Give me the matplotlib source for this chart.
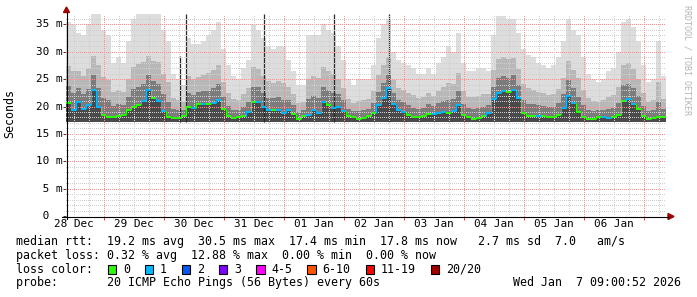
import numpy as np
import matplotlib
matplotlib.use("Agg")
import matplotlib.pyplot as plt
import matplotlib.transforms as mtransforms
from matplotlib.patches import Rectangle, Polygon
from matplotlib.lines import Line2D

W, H = 697, 297

# 2-hour buckets from 28 Dec 09:00 to 07 Jan 09:00, values in ms
rtt_median = [
    20.7, 19.3, 20.8, 19.6, 20.3, 23.0, 20.0, 18.4, 18.1, 18.1, 18.3, 18.4,
    19.3, 20.0, 20.3, 21.0, 23.0, 21.5, 21.0, 19.2, 18.1, 17.9, 17.9, 18.2,
    20.0, 19.8, 20.4, 20.5, 20.4, 20.6, 21.2, 19.5, 18.2, 17.9, 18.0, 18.2,
    19.0, 20.8, 20.9, 20.0, 19.3, 19.3, 19.4, 18.8, 19.4, 18.6, 17.8, 18.2,
    18.5, 19.3, 18.8, 20.8, 20.2, 19.7, 20.0, 19.2, 18.2, 18.0, 17.7, 17.9,
    18.2, 18.9, 20.3, 21.6, 23.3, 20.5, 19.3, 19.0, 18.4, 18.0, 18.0, 18.3,
    18.7, 18.6, 18.8, 19.0, 18.8, 19.2, 20.2, 18.5, 18.0, 17.8, 17.9, 18.2,
    18.8, 21.3, 22.4, 22.8, 22.6, 23.1, 21.5, 18.8, 18.3, 18.3, 18.2, 18.2,
    18.1, 18.0, 18.5, 19.8, 22.0, 20.7, 19.0, 18.0, 17.8, 17.8, 18.0, 18.0,
    17.9, 18.0, 18.4, 21.0, 21.3, 20.5, 19.5, 18.2, 17.8, 17.9, 18.1, 18.1,
]
smoke_top = [
    35.5, 35.0, 33.5, 33.0, 35.0, 36.9, 36.9, 34.0, 33.0, 28.0, 29.0, 28.0,
    32.0, 36.0, 36.9, 36.9, 36.9, 36.9, 36.9, 34.0, 32.0, 26.0, 25.0, 24.0,
    32.5, 31.5, 31.5, 32.0, 33.0, 34.0, 35.5, 30.5, 27.5, 25.5, 25.0, 27.0,
    28.5, 35.0, 34.0, 32.5, 31.0, 30.5, 31.0, 31.0, 28.5, 26.5, 24.0, 24.0,
    33.0, 33.0, 33.0, 35.0, 34.0, 33.5, 31.0, 28.5, 25.0, 24.0, 25.0, 25.0,
    25.0, 27.5, 32.5, 35.0, 36.0, 30.0, 28.5, 28.0, 27.5, 27.0, 26.0, 26.0,
    27.0, 26.0, 28.0, 29.0, 31.0, 30.0, 33.5, 28.0, 26.5, 26.5, 27.0, 27.0,
    26.5, 33.0, 36.5, 36.5, 36.0, 36.0, 33.5, 30.5, 29.5, 29.0, 28.0, 27.5,
    27.0, 27.5, 29.0, 32.0, 36.0, 34.0, 33.0, 29.0, 26.0, 25.0, 24.5, 25.0,
    26.5, 27.0, 30.0, 35.5, 36.0, 34.5, 32.0, 27.5, 24.5, 25.0, 32.0, 25.5,
]
smoke_mid = [
    27.4, 26.4, 26.5, 25.6, 26.9, 29.3, 27.6, 25.4, 24.8, 22.6, 23.1, 22.7,
    25.0, 27.2, 27.8, 28.2, 29.3, 28.4, 28.2, 25.9, 24.4, 21.5, 21.1, 20.8,
    25.6, 25.1, 25.4, 25.7, 26.1, 26.6, 27.6, 24.5, 22.4, 21.3, 21.2, 22.2,
    23.3, 27.2, 26.8, 25.6, 24.6, 24.3, 24.6, 24.3, 23.5, 22.2, 20.6, 20.8,
    25.0, 25.5, 25.2, 27.2, 26.4, 25.9, 25.0, 23.4, 21.3, 20.7, 21.0, 21.1,
    21.3, 22.8, 25.8, 27.6, 29.0, 24.8, 23.4, 23.1, 22.5, 22.1, 21.6, 21.8,
    22.4, 21.9, 22.9, 23.5, 24.3, 24.1, 26.2, 22.8, 21.8, 21.7, 22.0, 22.2,
    22.3, 26.6, 28.7, 29.0, 28.6, 28.9, 26.9, 24.1, 23.3, 23.1, 22.6, 22.4,
    22.1, 22.3, 23.2, 25.3, 28.3, 26.7, 25.3, 23.0, 21.5, 21.0, 20.9, 21.2,
    21.8, 22.1, 23.6, 27.5, 27.9, 26.8, 25.1, 22.4, 20.8, 21.1, 24.4, 21.4,
]
smoke_core = [
    23.7, 22.4, 23.3, 22.3, 23.2, 25.8, 23.4, 21.5, 21.1, 20.1, 20.4, 20.3,
    21.8, 23.2, 23.6, 24.2, 25.8, 24.6, 24.2, 22.2, 20.9, 19.5, 19.3, 19.4,
    22.5, 22.1, 22.6, 22.8, 22.9, 23.3, 24.1, 21.7, 20.1, 19.4, 19.4, 20.0,
    20.9, 23.6, 23.5, 22.5, 21.6, 21.5, 21.7, 21.2, 21.2, 20.2, 19.0, 19.4,
    21.4, 22.0, 21.6, 23.6, 23.0, 22.5, 22.2, 21.1, 19.6, 19.2, 19.2, 19.3,
    19.6, 20.6, 22.7, 24.3, 25.8, 22.4, 21.1, 20.8, 20.2, 19.8, 19.6, 19.8,
    20.4, 20.1, 20.6, 21.0, 21.2, 21.4, 22.9, 20.4, 19.7, 19.5, 19.7, 20.0,
    20.3, 23.6, 25.2, 25.5, 25.3, 25.7, 23.9, 21.1, 20.5, 20.4, 20.2, 20.1,
    19.9, 19.9, 20.6, 22.2, 24.8, 23.4, 21.8, 20.2, 19.4, 19.2, 19.3, 19.4,
    19.6, 19.8, 20.7, 23.9, 24.2, 23.3, 22.0, 20.1, 19.1, 19.3, 20.9, 19.6,
]
loss_count = [
    0, 1, 1, 1, 1, 1, 1, 0, 0, 0, 0, 0,
    0, 0, 0, 1, 1, 0, 1, 1, 0, 0, 0, 0,
    0, 1, 0, 1, 0, 1, 1, 0, 0, 0, 0, 0,
    1, 0, 1, 1, 1, 0, 1, 1, 1, 0, 0, 0,
    1, 1, 1, 1, 0, 1, 1, 1, 0, 0, 0, 0,
    0, 0, 1, 1, 1, 1, 1, 1, 0, 0, 0, 0,
    0, 1, 1, 1, 0, 1, 1, 0, 0, 0, 0, 0,
    1, 1, 1, 1, 0, 1, 1, 0, 0, 0, 1, 0,
    0, 0, 0, 1, 1, 1, 0, 0, 0, 0, 0, 1,
    1, 0, 0, 0, 1, 1, 0, 0, 0, 0, 0, 0,
]
# lower edge of the smoke, one value per day
smoke_floor_daily = [17.2, 17.2, 17.1, 17.2, 17.1, 17.1, 17.2, 17.2, 17.1, 17.1]

# single columns where all pings were high
spike_hours = [45.6, 47.8, 79.2, 107.2, 129.2]
spike_tops = [29.2, 36.9, 36.9, 36.9, 36.9]

day_labels = ["28 Dec", "29 Dec", "30 Dec", "31 Dec", "01 Jan",
              "02 Jan", "03 Jan", "04 Jan", "05 Jan", "06 Jan"]
ytick_ms = [0, 5, 10, 15, 20, 25, 30, 35]
ytick_labels = [" 0", " 5 m", "10 m", "15 m", "20 m", "25 m", "30 m", "35 m"]

loss_labels = ["0", "1", "2", "3", "4-5", "6-10", "11-19", "20/20"]
loss_colors = ["#26ff00", "#00b8ff", "#0059ff", "#7e00ff",
               "#ff00ff", "#ff5500", "#ff0000", "#a10000"]

stats_line = ("median rtt:  19.2 ms avg  30.5 ms max  17.4 ms min  "
              "17.8 ms now   2.7 ms sd  7.0   am/s")
loss_line = "packet loss: 0.32 % avg  12.88 % max  0.00 % min  0.00 % now"
probe_line = "probe:       20 ICMP Echo Pings (56 Bytes) every 60s"
stamp = "Wed Jan  7 09:00:52 2026"

plt.rcParams['font.family'] = 'DejaVu Sans Mono'


def fx(x):
    return x / W


def fy(y):
    return 1 - y / H


fig = plt.figure(figsize=(W / 100, H / 100), dpi=100)
ax = fig.add_axes([fx(66), fy(216), 600 / W, 202 / H])
ax.set_xlim(0, 240)
ax.set_ylim(0, 36.9)
for s in ax.spines.values():
    s.set_visible(False)

n = len(rtt_median)
t = np.arange(n) * 2.0
med = np.array(rtt_median)
floor = np.repeat(smoke_floor_daily, 12)

# smoke, light to dark
for arr, col in [(smoke_top, "#dddddd"), (smoke_mid, "#b8b8b8"),
                 (smoke_core, "#7c7c7c"), (rtt_median, "#4a4a4a")]:
    arr = np.array(arr)
    ax.bar(t, arr - floor, bottom=floor, width=2, align='edge',
           color=col, linewidth=0, antialiased=False, zorder=1)

spike_floor = [floor[int(h // 2)] for h in spike_hours]
ax.vlines(spike_hours, spike_floor, spike_tops, colors="#2a2a2a",
          linewidth=0.9, zorder=2)

# dotted grid
dots = (0, (1, 2))
for v in range(1, 37):
    major = v % 5 == 0
    ax.axhline(v, color="#e49a9a" if major else "#cfcfcf", lw=0.72,
               ls=dots, zorder=3, antialiased=False)
for h in np.arange(3, 240, 6):
    major = (h - 15) % 24 == 0
    ax.axvline(h, color="#e49a9a" if major else "#cfcfcf", lw=0.72,
               ls=dots, zorder=3, antialiased=False)

# median coloured by loss
cols = [loss_colors[c] for c in loss_count]
ax.hlines(med, t, t + 2, colors=cols, linewidth=1.4, zorder=5)
ax.vlines(t[1:], med[:-1], med[1:], colors=cols[1:], linewidth=0.8, zorder=5)

# x labels at noon, ticks at midnight
ax.set_xticks(np.arange(3, 240, 24), labels=day_labels)
ax.tick_params(axis='x', length=0, pad=2.0, labelsize=7.9)
ax.set_xticks(np.arange(15, 240, 24), minor=True)
ax.tick_params(axis='x', which='minor', length=3, width=0.72,
               color="#c05050", direction='out')
ax.set_yticks(ytick_ms, labels=[])
ax.tick_params(axis='y', length=2, width=0.72, color="#404040")

ytr = mtransforms.blended_transform_factory(fig.transFigure, ax.transData)
for v, lab in zip(ytick_ms, ytick_labels):
    ax.text(fx(36), v, lab, transform=ytr, ha='left', va='center',
            fontsize=7.9, clip_on=False)

# axis lines and arrows
fig.add_artist(Line2D([fx(62), fx(668)], [fy(216.5), fy(216.5)],
                      color="black", lw=0.8))
fig.add_artist(Line2D([fx(66.5), fx(66.5)], [fy(219), fy(12)],
                      color="black", lw=0.8))
fig.add_artist(Polygon([(fx(668), fy(213.5)), (fx(668), fy(219.5)),
                        (fx(674), fy(216.5))], closed=True,
                       color="#a00000", transform=fig.transFigure))
fig.add_artist(Polygon([(fx(63.5), fy(12.5)), (fx(69.5), fy(12.5)),
                        (fx(66.5), fy(7))], closed=True,
                       color="#a00000", transform=fig.transFigure))

fig.text(fx(10), fy(114), "Seconds", rotation=90, ha='center', va='center',
         fontsize=8.4)
fig.text(fx(687), fy(5), "RRDTOOL / TOBI OETIKER", rotation=270,
         ha='center', va='top', fontsize=6, color="#b4b4b4")

# legend block
fig.text(fx(16), fy(241.7), stats_line, ha='left', va='center', fontsize=8.4)
fig.text(fx(16), fy(255), loss_line, ha='left', va='center', fontsize=8.4)
fig.text(fx(16), fy(269.3), "loss color:", ha='left', va='center',
         fontsize=8.4)
lx = 123.0
for lab, col in zip(loss_labels, loss_colors):
    fig.add_artist(Rectangle((fx(lx - 15), fy(273.5)), 8.3 / W, 8.3 / H,
                             facecolor=col, edgecolor="black", lw=0.8,
                             transform=fig.transFigure))
    fig.text(fx(lx), fy(269.3), lab, ha='left', va='center', fontsize=8.4)
    lx += 7.05 * len(lab) + 30
fig.text(fx(16), fy(282.7), probe_line, ha='left', va='center', fontsize=8.4)
fig.text(fx(513), fy(282.7), stamp, ha='left', va='center', fontsize=8.4)

fig.savefig("out.png", dpi=100)
